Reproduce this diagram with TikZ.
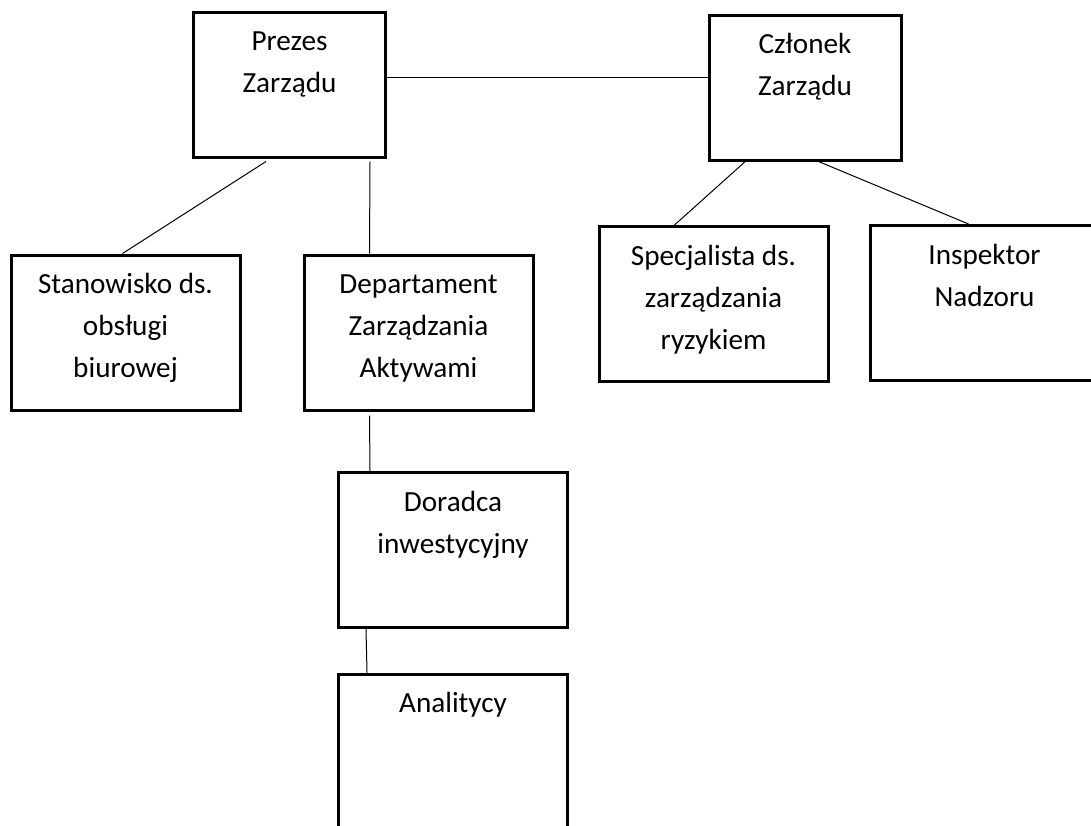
\documentclass[tikz,border=0pt]{standalone}
\usepackage{fontspec}
\setmainfont{Carlito}
\begin{document}
\begin{tikzpicture}[x=0.5pt,y=-0.5pt,
    box/.style={draw,line width=1.5pt,rectangle,minimum width=114.5pt,minimum height=77.5pt},
    topbox/.style={box,minimum width=96pt,minimum height=72.5pt},
    lbl/.style={anchor=north,align=center,inner sep=0pt,yshift=-5.3pt,
      font=\fontsize{14.6pt}{21pt}\selectfont},
    link/.style={line width=0.5pt}]
  \clip (0,0) rectangle (1091,825);
  \useasboundingbox (0,0) rectangle (1091,825);
  \node[topbox,label={[lbl]north:{\strut Prezes\\Zarządu}}] (prezes) at (289.5,84.5) {};
  \node[topbox,label={[lbl]north:{\strut Członek\\Zarządu}}] (czlonek) at (805,87.5) {};
  \node[box,label={[lbl]north:{\strut Stanowisko ds.\\obsługi\\biurowej}}] (stanowisko) at (125.5,332.5) {};
  \node[box,label={[lbl]north:{\strut Departament\\Zarządzania\\Aktywami}}] (departament) at (418.5,332.5) {};
  \node[box,label={[lbl]north:{\strut Specjalista ds.\\zarządzania\\ryzykiem}}] (specjalista) at (713.5,304) {};
  \node[box,label={[lbl]north:{\strut Inspektor\\Nadzoru}}] (inspektor) at (984.5,303) {};
  \node[box,label={[lbl]north:{\strut Doradca\\inwestycyjny}}] (doradca) at (453,550) {};
  \node[box,label={[lbl]north:{\strut Analitycy}}] (analitycy) at (453,751.5) {};
  \begin{scope}[link]
    \draw ([yshift=-33.5pt]prezes.north east) -- ([yshift=-33.5pt]prezes.north east -| czlonek.west);
    \draw ([xshift=37pt,yshift=-1.5pt]prezes.south west) -- ([xshift=56.5pt]stanowisko.north west);
    \draw ([xshift=89pt,yshift=-1.5pt]prezes.south west) -- ([xshift=33.5pt]departament.north west);
    \draw ([xshift=20pt,yshift=1pt]czlonek.south west) -- ([xshift=38.5pt]specjalista.north west);
    \draw ([xshift=55.5pt]czlonek.south west) -- ([xshift=50pt]inspektor.north west);
    \draw ([xshift=33.5pt,yshift=-2pt]departament.south west) -- ([xshift=16.5pt]doradca.north west);
    \draw ([xshift=14.5pt]doradca.south west) -- ([xshift=15pt]analitycy.north west);
  \end{scope}
\end{tikzpicture}
\end{document}
